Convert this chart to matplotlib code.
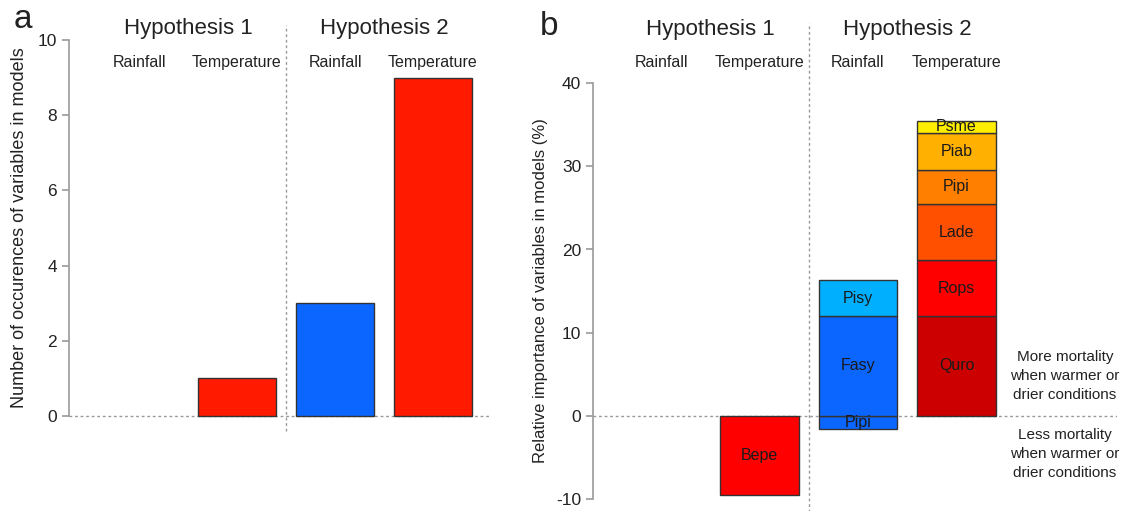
import matplotlib.pyplot as plt
import numpy as np

plt.rcParams['font.family'] = ['Liberation Sans', 'DejaVu Sans']
plt.rcParams['axes.unicode_minus'] = False

# ---- data ----
categories = ["Rainfall", "Temperature", "Rainfall", "Temperature"]
hypotheses = ["Hypothesis 1", "Hypothesis 2"]

# panel a: number of occurrences
occurrences = [0, 1, 3, 9]
occ_colors = ["#ff1a00", "#ff1a00", "#0a66ff", "#ff1a00"]

# panel b: relative importance (%), stacked per category
h1_temp_species = ["Bepe"]
h1_temp_values = [-9.5]
h2_rain_species = ["Pipi", "Fasy", "Pisy"]
h2_rain_values = [-1.6, 12.0, 4.3]
h2_temp_species = ["Quro", "Rops", "Lade", "Pipi", "Piab", "Psme"]
h2_temp_values = [12.0, 6.7, 6.8, 4.1, 4.4, 1.5]

h1_temp_colors = ["#ff0000"]
h2_rain_colors = ["#0a66ff", "#0a66ff", "#00b0ff"]
h2_temp_colors = ["#cc0000", "#ff0000", "#ff5000", "#ff8000", "#ffb000", "#ffee00"]

W, H = 1126, 511
fig = plt.figure(figsize=(W / 100, H / 100), dpi=100)

def px_axes(left, right, top, bottom):
    return fig.add_axes([left / W, 1 - bottom / H, (right - left) / W, (bottom - top) / H])

spine_col = "#9a9a9a"
text_col = "#222222"
grid_col = "#999999"

def style(ax, lo, hi, ticks):
    for s in ["top", "right", "bottom"]:
        ax.spines[s].set_visible(False)
    ax.spines["left"].set_color(spine_col)
    ax.spines["left"].set_linewidth(1.2)
    ax.spines["left"].set_bounds(lo, hi)
    ax.set_yticks(ticks)
    ax.tick_params(axis="y", colors=spine_col, labelcolor=text_col, labelsize=12.5,
                   length=5, width=1.2)
    ax.set_xticks([])
    ax.patch.set_alpha(0)

x = np.arange(4)
bw = 0.8

# ---- panel a ----
ax1 = px_axes(69, 490, 10, 440)
zero_a, ppu_a = 416, 37.6
ax1.set_ylim(-(440 - zero_a) / ppu_a, (zero_a - 10) / ppu_a)
ax1.set_xlim((69 - 139) / 98, (490 - 139) / 98)
style(ax1, 0, 10, [0, 2, 4, 6, 8, 10])
ax1.axhline(0, color=grid_col, lw=1, ls=(0, (2, 2)), zorder=1)
for i in range(4):
    if occurrences[i] > 0:
        ax1.bar(x[i], occurrences[i], width=bw, color=occ_colors[i],
                edgecolor="#333333", lw=1, zorder=2)
ax1.plot([1.5, 1.5], [-0.4, 10.4], color=grid_col, lw=1, ls=(0, (2, 2)), clip_on=False)
for i, c in enumerate(categories):
    ax1.text(x[i], 9.39, c, ha="center", va="center", fontsize=11.5, color=text_col)
for j, h in enumerate(hypotheses):
    ax1.text(0.5 + 2 * j, 10.30, h, ha="center", va="center", fontsize=16, color=text_col,
             clip_on=False)
ax1.text(-1.19, 10.32, "a", ha="center", va="baseline", fontsize=24, color=text_col,
         clip_on=False)
ax1.text(-1.22, 5, "Number of occurences of variables in models", rotation=90,
         ha="center", va="center", fontsize=13, color=text_col, clip_on=False)

# ---- panel b ----
ax2 = px_axes(593, 1117, 10, 511)
zero_b, ppu_b = 415.7, 8.31
ax2.set_ylim(-(511 - zero_b) / ppu_b, (zero_b - 10) / ppu_b)
ax2.set_xlim((593 - 661) / 98.5, (1117 - 661) / 98.5)
style(ax2, -10, 40, [-10, 0, 10, 20, 30, 40])
ax2.axhline(0, color=grid_col, lw=1, ls=(0, (2, 2)), zorder=1)

def stack(ax, xi, names, values, colors):
    pos, neg = 0.0, 0.0
    for n, v, c in zip(names, values, colors):
        if v >= 0:
            base = pos
            pos += v
        else:
            base = neg
            neg += v
        ax.bar(xi, v, bottom=base, width=bw, color=c, edgecolor="#333333", lw=1, zorder=2)
        ax.text(xi, base + v / 2, n, ha="center", va="center", fontsize=11.5,
                color="#1a1a1a", zorder=3)

stack(ax2, x[1], h1_temp_species, h1_temp_values, h1_temp_colors)
stack(ax2, x[2], h2_rain_species, h2_rain_values, h2_rain_colors)
stack(ax2, x[3], h2_temp_species, h2_temp_values, h2_temp_colors)

ax2.plot([1.5, 1.5], [-12, 47.3], color=grid_col, lw=1, ls=(0, (2, 2)), clip_on=False)
for i, c in enumerate(categories):
    ax2.text(x[i], 42.45, c, ha="center", va="center", fontsize=11.5, color=text_col)
for j, h in enumerate(hypotheses):
    ax2.text(0.5 + 2 * j, 46.5, h, ha="center", va="center", fontsize=16, color=text_col,
             clip_on=False)
ax2.text(-1.137, 45.8, "b", ha="center", va="baseline", fontsize=24, color=text_col,
         clip_on=False)
ax2.text(-1.22, 15, "Relative importance of variables in models (%)", rotation=90,
         ha="center", va="center", fontsize=12, color=text_col, clip_on=False)
ax2.text(4.1, 4.8, "More mortality\nwhen warmer or\ndrier conditions", ha="center",
         va="center", fontsize=11, color=text_col, linespacing=1.45)
ax2.text(4.1, -4.6, "Less mortality\nwhen warmer or\ndrier conditions", ha="center",
         va="center", fontsize=11, color=text_col, linespacing=1.45)

fig.savefig("out.png", dpi=100)
